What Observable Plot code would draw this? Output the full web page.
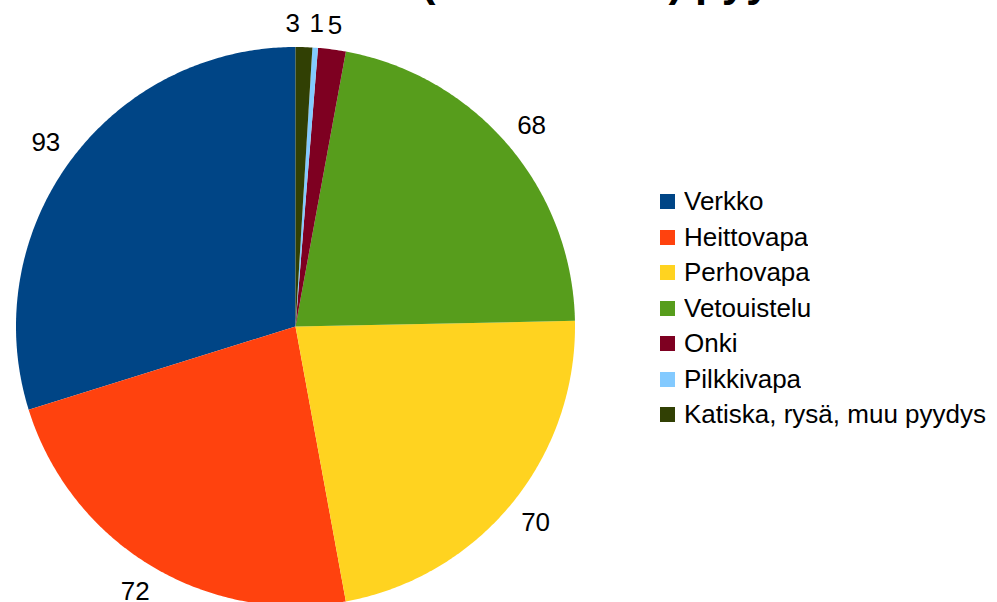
<!DOCTYPE html>
<html>
<head>
<meta charset="utf-8">
<script src="https://cdn.jsdelivr.net/npm/d3@7"></script>
<script src="https://cdn.jsdelivr.net/npm/@observablehq/plot@0.6"></script>
<style>
html, body { margin: 0; padding: 0; background: #fff; overflow: hidden; width: 997px; height: 602px; }
body { position: relative; }
#chart { position: absolute; left: 0; top: 0; }
#titlesvg { position: absolute; left: 0; top: 0; z-index: 2; overflow: visible; }
#legend { position: absolute; left: 660px; top: 184px; width: 337px; }
div.lg-swatches { font: 26px "Liberation Sans", Arial, sans-serif !important; margin: 0 !important; color: #000; }
div.lg-swatches-columns div.lg-swatch { height: 35.5px; padding: 0 !important; display: flex; align-items: center; }
div.lg-swatches div.lg-swatch > svg { margin-right: 9px !important; }
</style>
</head>
<body>
<div id="chart"></div>
<div id="legend"></div>
<svg id="titlesvg" width="997" height="20"><text id="ttl" x="0" y="-4" font-family="Liberation Sans, Arial, sans-serif" font-weight="bold" font-size="44" fill="#000"><tspan id="pre">Saaliit </tspan><tspan id="par">(lukumäärät)</tspan><tspan> pyyntitavoittain</tspan></text></svg>
<script>
// ---- data ----
const categories = ["Verkko", "Heittovapa", "Perhovapa", "Vetouistelu", "Onki", "Pilkkivapa", "Katiska, rysä, muu pyydys"];
const values = [93, 72, 70, 68, 5, 1, 3];
const colors = ["#004586", "#ff420e", "#ffd320", "#579d1c", "#7e0021", "#83caff", "#314004"];

// ---- pie geometry (counter-clockwise from the top, in legend order) ----
const arcs = d3.pie().sort(null).startAngle(0).endAngle(-2 * Math.PI)(values);
const slices = arcs.map((p, i) => ({name: categories[i], value: values[i], a0: p.startAngle, a1: p.endAngle}));

const polygonPoints = [];
for (const s of slices) {
  polygonPoints.push({name: s.name, x: 0, y: 0});
  const n = Math.max(2, Math.ceil(Math.abs(s.a1 - s.a0) / (Math.PI / 360)));
  for (let k = 0; k <= n; k++) {
    const a = s.a0 + (s.a1 - s.a0) * k / n;
    polygonPoints.push({name: s.name, x: Math.sin(a), y: Math.cos(a)});
  }
  polygonPoints.push({name: s.name, x: 0, y: 0});
}

const labels = slices.map(s => {
  const mid = (s.a0 + s.a1) / 2;
  const small = Math.abs(s.a1 - s.a0) < 0.2;
  const r = small ? 1.085 : 1.109;
  return {name: s.name, text: String(s.value), x: Math.sin(mid) * r, y: Math.cos(mid) * r, small};
});
const shiftedName = categories[6];

const font = '"Liberation Sans", Arial, sans-serif';

const chart = Plot.plot({
  width: 997,
  height: 610,
  marginLeft: 15.5,
  marginRight: 422.5,
  marginTop: 46.5,
  marginBottom: 4.5,
  x: {domain: [-1, 1], axis: null},
  y: {domain: [-1, 1], axis: null},
  color: {domain: categories, range: colors},
  style: {fontFamily: font, background: "white", overflow: "visible"},
  marks: [
    Plot.line(polygonPoints, {x: "x", y: "y", z: "name", fill: "name", stroke: "none", curve: "linear"}),
    Plot.text(labels.filter(d => d.name !== shiftedName), {x: "x", y: "y", text: "text", fill: "black", fontSize: 26, textAnchor: "middle", lineAnchor: "middle"}),
    Plot.text(labels.filter(d => d.name === shiftedName), {x: "x", y: "y", text: "text", fill: "black", fontSize: 26, textAnchor: "middle", lineAnchor: "middle", dx: -12})
  ]
});
document.getElementById("chart").appendChild(chart);

const legend = Plot.legend({
  color: {domain: categories, range: colors},
  legend: "swatches",
  columns: 1,
  swatchSize: 15,
  className: "lg"
});
document.getElementById("legend").appendChild(legend);

// title: almost entirely above the visible area, as in the reference (only descenders show)
const ttl = document.getElementById("ttl");
const parLen0 = document.getElementById("par").getComputedTextLength();
const size = Math.max(30, Math.min(56, 44 * 262 / parLen0));
ttl.setAttribute("font-size", size);
const preLen = document.getElementById("pre").getComputedTextLength();
ttl.setAttribute("x", 421 - preLen);
ttl.setAttribute("y", 5 - 0.21 * size);
</script>
</body>
</html>
